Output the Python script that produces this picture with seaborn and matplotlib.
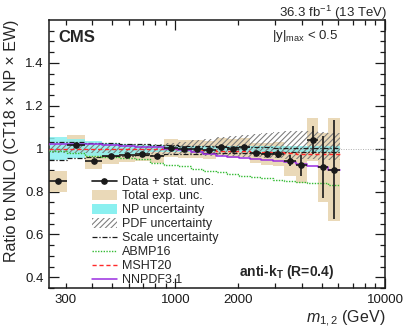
import numpy as np
import pandas as pd
import matplotlib
matplotlib.use("Agg")
import matplotlib.pyplot as plt
import matplotlib.font_manager as fm
from matplotlib.lines import Line2D
from matplotlib.patches import Patch
from matplotlib.ticker import FixedLocator, FixedFormatter
import seaborn as sns

# keep "Liberation Sans" from resolving to the Narrow cut
fm.fontManager.ttflist = [f for f in fm.fontManager.ttflist if 'Narrow' not in f.fname]

# --------------------
# data
# --------------------
edges = [249, 306, 372, 449, 539, 641, 756, 887, 1029, 1187, 1361, 1556,
         1769, 2008, 2273, 2572, 2915, 3306, 3754, 4244, 4805, 5374, 6094]
data = [0.847, 1.019, 0.944, 0.964, 0.969, 0.975, 0.966, 1.003, 1.000, 0.998, 0.992,
        1.009, 1.000, 1.006, 0.980, 0.975, 0.975, 0.944, 0.922, 1.042, 0.913, 0.902]
stat = [0.006, 0.005, 0.005, 0.004, 0.004, 0.004, 0.004, 0.004, 0.004, 0.005, 0.005,
        0.006, 0.007, 0.008, 0.010, 0.012, 0.017, 0.027, 0.050, 0.065, 0.145, 0.230]
tot_exp = [0.047, 0.045, 0.040, 0.035, 0.033, 0.033, 0.035, 0.040, 0.042, 0.042, 0.042,
           0.040, 0.044, 0.045, 0.047, 0.050, 0.055, 0.070, 0.080, 0.100, 0.160, 0.240]

np_up = [1.055, 1.045, 1.035, 1.028, 1.022, 1.018, 1.015, 1.013, 1.012, 1.011, 1.011,
         1.010, 1.010, 1.010, 1.010, 1.010, 1.010, 1.010, 1.010, 1.010, 1.010, 1.010]
np_dn = [0.948, 0.958, 0.966, 0.972, 0.977, 0.980, 0.982, 0.984, 0.985, 0.985, 0.985,
         0.985, 0.985, 0.985, 0.985, 0.985, 0.985, 0.985, 0.985, 0.985, 0.985, 0.985]
pdf_up = [1.022, 1.020, 1.020, 1.020, 1.020, 1.021, 1.023, 1.025, 1.032, 1.040, 1.047,
          1.053, 1.058, 1.062, 1.067, 1.072, 1.076, 1.080, 1.082, 1.082, 1.078, 1.074]
pdf_dn = [0.978, 0.980, 0.980, 0.980, 0.980, 0.979, 0.977, 0.975, 0.973, 0.970, 0.968,
          0.966, 0.964, 0.962, 0.960, 0.958, 0.956, 0.954, 0.952, 0.950, 0.948, 0.945]
scale_up = [1.030, 1.030, 1.028, 1.025, 1.022, 1.020, 1.018, 1.016, 1.014, 1.012, 1.010,
            1.009, 1.008, 1.007, 1.006, 1.006, 1.005, 1.005, 1.005, 1.005, 1.005, 1.005]
scale_dn = [0.947, 0.955, 0.960, 0.965, 0.968, 0.970, 0.972, 0.974, 0.976, 0.977, 0.978,
            0.979, 0.980, 0.980, 0.981, 0.981, 0.982, 0.982, 0.982, 0.982, 0.982, 0.982]

abmp16 = [0.990, 0.978, 0.965, 0.962, 0.955, 0.950, 0.933, 0.925, 0.918, 0.905, 0.898,
          0.890, 0.882, 0.874, 0.867, 0.862, 0.856, 0.850, 0.846, 0.842, 0.838, 0.830]
msht20 = [0.998, 0.998, 0.998, 0.998, 0.998, 0.998, 0.998, 0.998, 0.997, 0.995, 0.993,
          0.990, 0.990, 0.988, 0.986, 0.983, 0.982, 0.978, 0.976, 0.975, 0.975, 0.974]
nnpdf31 = [1.022, 1.022, 1.022, 1.016, 1.013, 1.006, 1.006, 0.996, 0.992, 0.985, 0.975,
           0.968, 0.963, 0.957, 0.952, 0.946, 0.944, 0.936, 0.929, 0.920, 0.913, 0.902]

# --------------------
# style
# --------------------
sns.set_theme(style="ticks")
plt.rcParams['font.family'] = ['Liberation Sans', 'DejaVu Sans']
plt.rcParams['mathtext.fontset'] = 'custom'
plt.rcParams['mathtext.rm'] = 'Liberation Sans'
plt.rcParams['mathtext.it'] = 'Liberation Sans:italic'
plt.rcParams['mathtext.bf'] = 'Liberation Sans:bold'
plt.rcParams['hatch.color'] = '#7a7a7a'
plt.rcParams['hatch.linewidth'] = 0.75
fs = 9            # legend
fs_tick = 9.5
fs_lab = 11.5

tan = '#ead9b8'
cyan = '#8af0f0'
green = '#33bb33'
red = '#ff2a2a'
purple = '#9a2ee0'
hatch_col = '#7a7a7a'

edges = np.array(edges, dtype=float)
lo, hi = edges[:-1], edges[1:]
centers = np.sqrt(lo * hi)
data = np.array(data)

def stepify(v):
    return np.append(v, v[-1])

fig = plt.figure(figsize=(4.07, 3.31), dpi=100)
ax = fig.add_axes([49 / 407, 43 / 331, 336 / 407, 268 / 331])

# total experimental uncertainty boxes
tot_exp = np.array(tot_exp)
ax.bar(lo, 2 * tot_exp, bottom=data - tot_exp, width=hi - lo, align='edge',
       color=tan, linewidth=0, zorder=1)

# NP band
ax.fill_between(edges, stepify(np_dn), stepify(np_up), step='post',
                color=cyan, linewidth=0, alpha=0.85, zorder=2)
# PDF band (hatched)
ax.fill_between(edges, stepify(pdf_dn), stepify(pdf_up), step='post',
                facecolor='none', edgecolor=hatch_col, hatch='//////',
                linewidth=0, zorder=3)

# line at one
ax.axhline(1.0, color='#b0b0b0', lw=0.7, ls=(0, (1, 1.5)), zorder=2)

# theory lines
scale_ls = (0, (4, 1.5, 1, 1.5))
lines = pd.DataFrame({
    'edge': np.tile(edges, 5),
    'ratio': np.concatenate([stepify(scale_up), stepify(scale_dn), stepify(abmp16),
                             stepify(msht20), stepify(nnpdf31)]),
    'curve': np.repeat(['scale_up', 'scale_dn', 'ABMP16', 'MSHT20', 'NNPDF3.1'], len(edges)),
})
styles = {
    'scale_up': dict(color='k', linestyle=scale_ls, lw=0.9),
    'scale_dn': dict(color='k', linestyle=scale_ls, lw=0.9),
    'ABMP16': dict(color=green, linestyle=(0, (1, 1)), lw=1.0),
    'MSHT20': dict(color=red, linestyle=(0, (3, 2)), lw=1.0),
    'NNPDF3.1': dict(color=purple, linestyle='-', lw=1.1),
}
for name, kw in styles.items():
    sub = lines[lines['curve'] == name]
    sns.lineplot(data=sub, x='edge', y='ratio', ax=ax, drawstyle='steps-post',
                 estimator=None, sort=False, zorder=4, **kw)

# data points
ax.errorbar(centers, data, yerr=stat, xerr=[centers - lo, hi - centers],
            fmt='o', color='k', ms=3.8, elinewidth=1.2, capsize=0, zorder=6)

# axes
ax.set_xscale('log')
ax.set_xlim(250, 10000)
ax.set_ylim(0.35, 1.6)
ax.xaxis.set_major_locator(FixedLocator([1000, 10000]))
ax.xaxis.set_major_formatter(FixedFormatter(['1000', '10000']))
minors = [300, 400, 500, 600, 700, 800, 900, 2000, 3000, 4000, 5000, 6000, 7000, 8000, 9000]
ax.xaxis.set_minor_locator(FixedLocator(minors))
ax.xaxis.set_minor_formatter(FixedFormatter(['300', '', '', '', '', '', '', '2000',
                                             '', '', '', '', '', '', '']))
ax.set_yticks([0.4, 0.6, 0.8, 1.0, 1.2, 1.4])
ax.set_yticklabels(['0.4', '0.6', '0.8', '1', '1.2', '1.4'])
ax.yaxis.set_minor_locator(FixedLocator(np.arange(0.35, 1.6, 0.05)))
ax.tick_params(which='both', direction='in', top=True, right=True, labelsize=fs_tick,
               width=0.9, colors='k', pad=4)
ax.tick_params(which='major', length=7)
ax.tick_params(axis='x', which='minor', length=3.5, labelsize=fs_tick, pad=4)
ax.tick_params(axis='y', which='minor', length=3.5)
for s in ax.spines.values():
    s.set_linewidth(1.1)
    s.set_color('k')

ax.set_xlabel(r'$m_{1,2}$ (GeV)', fontsize=fs_lab, loc='right', labelpad=2)
ax.set_ylabel('Ratio to NNLO (CT18 × NP × EW)', fontsize=fs_lab, loc='top', labelpad=4)

# texts
ax.text(0.027, 0.933, 'CMS', transform=ax.transAxes, fontsize=12, fontweight='bold',
        va='center', ha='left')
ax.text(0.664, 0.94, r'|y|$_{\mathrm{max}}$ < 0.5', transform=ax.transAxes, fontsize=9.5,
        va='center', ha='left')
ax.text(0.565, 0.06, r'anti-k$_{\mathbf{T}}$ (R=0.4)', transform=ax.transAxes,
        fontsize=10, fontweight='bold', va='center', ha='left')
ax.text(1.005, 1.013, r'36.3 fb$^{-1}$ (13 TeV)', transform=ax.transAxes, fontsize=9.5,
        va='baseline', ha='right')

# legend
handles = [
    Line2D([], [], color='k', marker='o', ms=3.8, lw=1.2),
    Patch(facecolor=tan, edgecolor='none'),
    Patch(facecolor=cyan, edgecolor='none'),
    Patch(facecolor='white', edgecolor=hatch_col, hatch='//////', lw=0),
    Line2D([], [], color='k', ls=scale_ls, lw=0.9),
    Line2D([], [], color=green, ls=(0, (1, 1)), lw=1.0),
    Line2D([], [], color=red, ls=(0, (3, 2)), lw=1.0),
    Line2D([], [], color=purple, lw=1.1),
]
labels = ['Data + stat. unc.', 'Total exp. unc.', 'NP uncertainty', 'PDF uncertainty',
          'Scale uncertainty', 'ABMP16', 'MSHT20', 'NNPDF3.1']
ax.legend(handles, labels, loc='upper left', bbox_to_anchor=(0.127, 0.418),
          frameon=False, fontsize=fs, borderpad=0, borderaxespad=0,
          handlelength=2.0, handletextpad=0.4, labelspacing=0.15, handleheight=0.8)

fig.savefig('out.png', dpi=100)
